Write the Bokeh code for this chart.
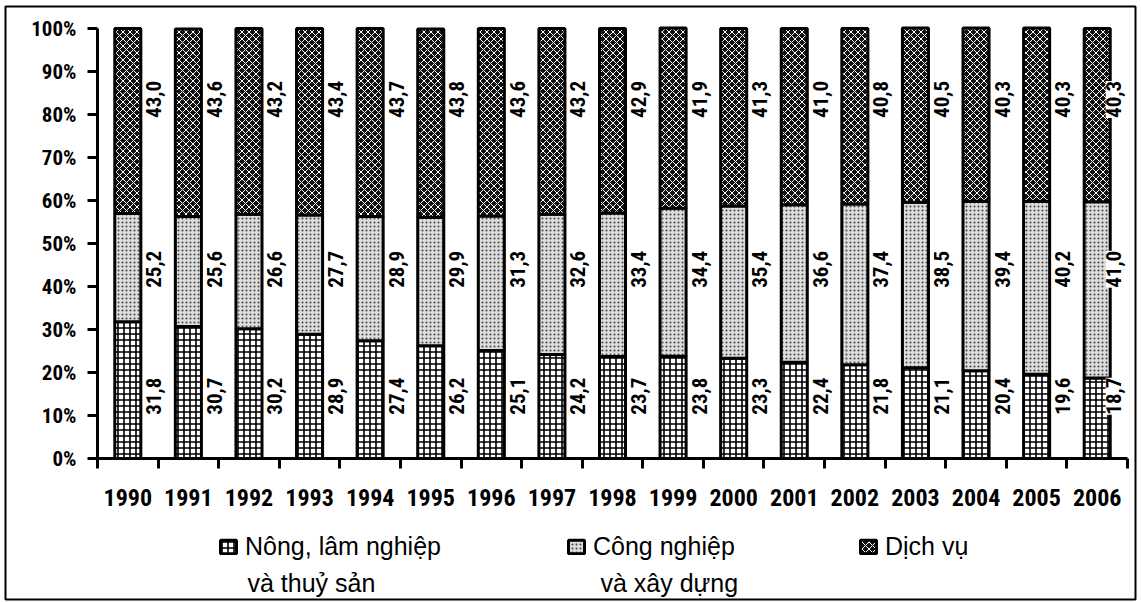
from bokeh.plotting import figure
from bokeh.models import (ColumnDataSource, Range1d, LinearAxis, FixedTicker, LabelSet, Label,
                          Legend, LegendItem)
from bokeh.core.properties import value
from bokeh.embed import file_html
from bokeh.resources import INLINE

# ---------------- data ----------------
years = ["1990", "1991", "1992", "1993", "1994", "1995", "1996", "1997", "1998",
         "1999", "2000", "2001", "2002", "2003", "2004", "2005", "2006"]
nong_lam = [31.8, 30.7, 30.2, 28.9, 27.4, 26.2, 25.1, 24.2, 23.7, 23.8, 23.3, 22.4, 21.8, 21.1, 20.4, 19.6, 18.7]
cong_nghiep = [25.2, 25.6, 26.6, 27.7, 28.9, 29.9, 31.3, 32.6, 33.4, 34.4, 35.4, 36.6, 37.4, 38.5, 39.4, 40.2, 41.0]
dich_vu = [43.0, 43.6, 43.2, 43.4, 43.7, 43.8, 43.6, 43.2, 42.9, 41.9, 41.3, 41.0, 40.8, 40.5, 40.3, 40.3, 40.3]
series_line1 = ["Nông, lâm nghiệp", "Công nghiệp", "Dịch vụ"]
series_line2 = ["và thuỷ sản", "và xây dựng", ""]
y_ticks = [0, 10, 20, 30, 40, 50, 60, 70, 80, 90, 100]
y_tick_labels = ["0%", "10%", "20%", "30%", "40%", "50%", "60%", "70%", "80%", "90%", "100%"]

# ---------------- styles / layout ----------------
BOLD_FONT = "'Liberation Sans Narrow', 'Arial Narrow', 'Roboto Condensed', 'Liberation Sans', sans-serif"
REG_FONT = "'Liberation Sans', Arial, sans-serif"
label_heights = [14.5, 44.0, 83.5]   # fixed vertical placement of value labels (in %)

n = len(years)
slot = [i + 0.5 for i in range(n)]        # category centres on the x scale
bounds = list(range(n + 1))                # category boundaries (tick marks)

# the plot frame is the whole boxed picture; the data area sits inside it via the ranges
PX_X = 1030.0 / n          # pixels per category
PX_Y = 430.0 / 100         # pixels per percent
x_range = Range1d(-92 / PX_X, n + 8 / PX_X)
y_range = Range1d(-141 / PX_Y, 100 + 22 / PX_Y)

p = figure(width=1141, height=602, x_range=x_range, y_range=y_range,
           output_backend="svg", toolbar_location=None,
           x_axis_location=None, y_axis_location=None,
           min_border_left=5, min_border_right=6, min_border_top=6, min_border_bottom=3,
           outline_line_color="black", outline_line_width=2,
           background_fill_color="white", border_fill_color="white")
p.xgrid.visible = False
p.ygrid.visible = False

# y axis (at x = 0)
yaxis = LinearAxis(ticker=FixedTicker(ticks=y_ticks), fixed_location=0, bounds=(0, 100),
                   major_label_overrides={t: s for t, s in zip(y_ticks, y_tick_labels)})
yaxis.axis_line_width = 3
yaxis.major_tick_line_width = 3
yaxis.major_tick_out = 10
yaxis.major_tick_in = 0
yaxis.minor_tick_out = 0
yaxis.minor_tick_in = 0
yaxis.major_label_standoff = 11
yaxis.major_label_text_font = BOLD_FONT
yaxis.major_label_text_font_style = "bold"
yaxis.major_label_text_font_size = "21px"
yaxis.major_label_text_color = "black"
p.add_layout(yaxis, "left")

# x axis: line + tick marks at category boundaries (at y = 0)
xtick_axis = LinearAxis(ticker=FixedTicker(ticks=bounds), fixed_location=0, bounds=(0, n),
                        major_label_overrides={b: "" for b in bounds})
xtick_axis.axis_line_width = 3
xtick_axis.major_tick_line_width = 3
xtick_axis.major_tick_out = 10
xtick_axis.major_tick_in = 0
xtick_axis.minor_tick_out = 0
xtick_axis.minor_tick_in = 0
xtick_axis.major_label_text_font_size = "1px"
p.add_layout(xtick_axis, "below")

# x axis: year labels at category centres
xlab_axis = LinearAxis(ticker=FixedTicker(ticks=slot), fixed_location=0, bounds=(0, n),
                       major_label_overrides={s: y for s, y in zip(slot, years)})
xlab_axis.axis_line_color = None
xlab_axis.major_tick_out = 0
xlab_axis.major_tick_in = 0
xlab_axis.minor_tick_out = 0
xlab_axis.minor_tick_in = 0
xlab_axis.major_label_standoff = 30
xlab_axis.major_label_text_font = BOLD_FONT
xlab_axis.major_label_text_font_style = "bold"
xlab_axis.major_label_text_font_size = "24px"
xlab_axis.major_label_text_color = "black"
p.add_layout(xlab_axis, "below")

# bars
src = ColumnDataSource(dict(x=slot, year=years, ag=nong_lam, ind=cong_nghiep, ser=dich_vu))
rs = p.vbar_stack(["ag", "ind", "ser"], x="x", width=0.43, source=src,
                  fill_color=["white", "#dcdcdc", "#111111"],
                  hatch_pattern=["cross", "dot", "diagonal_cross"],
                  hatch_color=["black", "#444444", "white"],
                  hatch_scale=[6, 4, 7],
                  hatch_weight=[1.6, 1, 1.0],
                  line_color="black", line_width=3)

# value labels
dx = [26] * (n - 1) + [16]
for vals, h in zip([nong_lam, cong_nghiep, dich_vu], label_heights):
    lsrc = ColumnDataSource(dict(x=slot, y=[h] * n, dx=dx,
                                 text=[f"{v:.1f}".replace(".", ",") for v in vals]))
    p.add_layout(LabelSet(x="x", y="y", text="text", source=lsrc,
                          angle=90, angle_units="deg", x_offset="dx",
                          text_align="center", text_baseline="middle",
                          text_font=value(BOLD_FONT), text_font_style="bold",
                          text_font_size="21px", text_color="black",
                          background_fill_color="white"))

# legends (one per item, placed individually inside the box; glyph beside the first line)
legend_left_px = [213, 561, 853]        # icon left edge, px from the box's left side
legend_bottom_px = 38                   # px above the box's bottom edge
line2_left_px = [247, 600]              # canvas px of the second text lines
line2_mid_px = 582
for r, l1, x0 in zip(rs, series_line1, legend_left_px):
    leg = Legend(items=[LegendItem(label=l1, renderers=[r])], location=(x0, legend_bottom_px),
                 orientation="horizontal", glyph_width=20, glyph_height=17,
                 label_standoff=7, padding=0, margin=0, spacing=0,
                 border_line_color=None, background_fill_alpha=0,
                 label_text_font=REG_FONT, label_text_font_size="25px",
                 label_text_color="black")
    p.add_layout(leg, "center")
for l2, xpx in zip(series_line2, line2_left_px):
    p.add_layout(Label(x=(xpx - 97) / PX_X, y=(458 - line2_mid_px) / PX_Y, text=l2,
                       text_align="left", text_baseline="middle",
                       text_font=REG_FONT, text_font_size="25px", text_color="black"))

open("out.html", "w").write(file_html(p, INLINE))
